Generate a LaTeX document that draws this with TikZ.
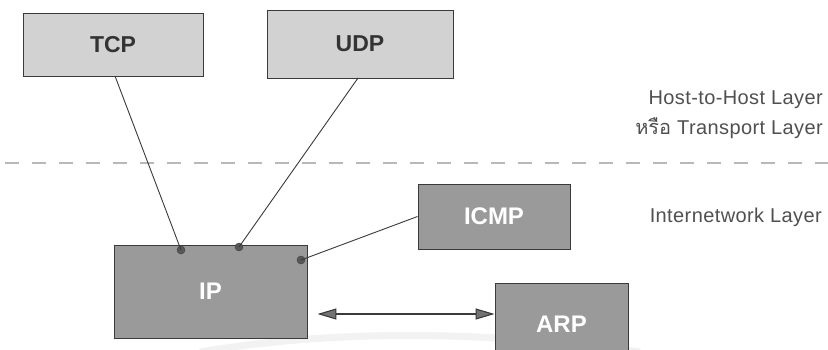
\documentclass[tikz,border=0pt]{standalone}
\usepackage{fontspec}
\setmainfont{Liberation Sans}
\newfontfamily\thaifont[Script=Thai]{Loma}
\usetikzlibrary{arrows.meta,calc}
\definecolor{lightbox}{HTML}{D2D2D2}
\definecolor{darkbox}{HTML}{9A9A9A}
\definecolor{edge}{HTML}{3A3A3A}
\definecolor{labeltext}{HTML}{505050}
\tikzset{
  protolight/.style={draw=edge, line width=0.9pt, fill=lightbox, text=black!80,
    font=\fontsize{23}{25}\selectfont\bfseries, inner sep=0pt},
  protodark/.style={draw=edge, line width=0.9pt, fill=darkbox, text=white,
    font=\fontsize{24}{26}\selectfont\bfseries, inner sep=0pt},
  layertext/.style={anchor=east, text=labeltext, inner sep=0pt,
    font=\fontsize{20}{22}\selectfont\addfontfeatures{LetterSpace=2}},
  link/.style={draw=edge, line width=0.9pt},
  joint/.style={circle, fill=edge!85, draw=edge, inner sep=0pt, minimum size=8pt},
}
\begin{document}
\begin{tikzpicture}[x=1pt,y=-1pt]
\useasboundingbox (0,0) rectangle (828,349);
\clip (0,0) rectangle (828,349);
\fill[white] (0,0) rectangle (828,349);

% faint curved band near the bottom
\draw[black!5, line width=7pt] (200,352) .. controls (330,330) and (480,330) .. (640,352);

% layer separator
\draw[black!28, line width=1.2pt, dash pattern=on 14pt off 13pt] (5,163) -- (828,163);

% protocol boxes
\node[protolight, minimum width=180pt, minimum height=63pt] (tcp)  at (113,44.5) {TCP};
\node[protolight, minimum width=186pt, minimum height=68pt] (udp)  at (360,44)   {UDP};
\node[protodark,  minimum width=193pt, minimum height=93pt] (ip)   at (210.5,291.5) {IP};
\node[protodark,  minimum width=152pt, minimum height=65pt] (icmp) at (494,216.5) {ICMP};
\node[protodark,  minimum width=133pt, minimum height=77pt, text depth=0pt] (arp) at (561.5,321.5) {\raisebox{-6pt}{ARP}};

% layer labels
\node[layertext] (hth)  at (823,100) {Host-to-Host Layer};
\node[layertext] (trl)  at (823,128) {{\thaifont หรือ} Transport Layer};
\node[layertext] (inl)  at (822,217) {Internetwork Layer};

% attachment points
\coordinate (tcpout) at (115,76);
\coordinate (udpout) at (358,78);
\node[joint] (jtcp)  at (181,250) {};
\node[joint] (judp)  at (239,247) {};
\node[joint] (jicmp) at (301,260) {};

\draw[link] (tcpout) -- (jtcp.center);
\draw[link] (udpout) -- (judp.center);
\draw[link] (icmp.west) -- (jicmp.center);

% IP <-> ARP
\draw[link, line width=1.1pt,
  {Triangle[length=19pt,width=11pt,fill=black!55]}-{Triangle[length=19pt,width=11pt,fill=black!55]},
  shorten <=10pt] (ip.east |- 0,314) -- (arp.west |- 0,314);
\end{tikzpicture}
\end{document}
